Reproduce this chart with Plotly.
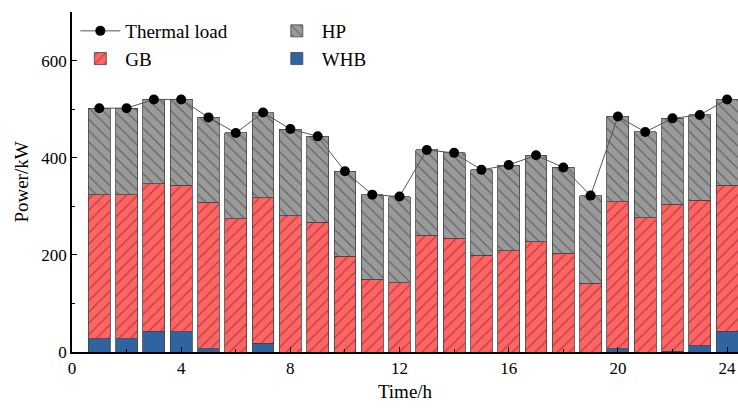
import plotly.graph_objects as go

hours = list(range(1, 25))
thermal_load = [502, 502, 520, 520, 483, 451, 493, 459, 444, 372, 324, 320,
                416, 410, 375, 385, 405, 380, 322, 485, 453, 481, 488, 520]
whb = [27, 27, 43, 42, 7, 0, 18, 0, 0, 0, 0, 0,
       0, 0, 0, 0, 0, 0, 0, 7, 0, 2, 13, 43]
gb_top = [324, 324, 346, 343, 308, 274, 318, 281, 267, 197, 150, 143,
          240, 234, 199, 208, 227, 203, 142, 309, 276, 304, 312, 343]
gb = [t - w for t, w in zip(gb_top, whb)]
hp = [l - t for l, t in zip(thermal_load, gb_top)]

FONT = "Liberation Serif"
edge = dict(color="#444444", width=0.8)

fig = go.Figure()
fig.add_trace(go.Bar(
    x=hours, y=whb, name="WHB", width=0.8,
    marker=dict(color="#2f64a0", line=edge),
    legend="legend2", legendrank=2,
))
fig.add_trace(go.Bar(
    x=hours, y=gb, name="GB", width=0.8,
    marker=dict(color="#ff6464", line=edge,
                pattern=dict(shape="/", fgcolor="#6a1a1a", size=8, solidity=0.15)),
    legend="legend", legendrank=2,
))
fig.add_trace(go.Bar(
    x=hours, y=hp, name="HP", width=0.8,
    marker=dict(color="#9a9a9a", line=edge,
                pattern=dict(shape="\\", fgcolor="#2e2e2e", size=8, solidity=0.15)),
    legend="legend2", legendrank=1,
))
fig.add_trace(go.Scatter(
    x=hours, y=thermal_load, name="Thermal load", mode="lines+markers",
    line=dict(color="#555555", width=1),
    marker=dict(color="black", size=10),
    legend="legend", legendrank=1,
))

legend_common = dict(
    font=dict(family=FONT, size=19, color="black"),
    bgcolor="rgba(0,0,0,0)", borderwidth=0,
    yanchor="top", y=1.0, xanchor="left",
    tracegroupgap=0, itemwidth=40, traceorder="normal",
)

fig.update_layout(
    width=738, height=408,
    margin=dict(l=72, r=0, t=12, b=56),
    plot_bgcolor="white", paper_bgcolor="white",
    barmode="stack", bargap=0.2,
    font=dict(family=FONT, size=16, color="black"),
    legend=dict(x=0.005, **legend_common),
    legend2=dict(x=0.30, **legend_common),
    xaxis=dict(
        range=[0, 24.4], tickvals=[0, 4, 8, 12, 16, 20, 24],
        ticks="inside", ticklen=5, tickcolor="black", tickwidth=1.2,
        minor=dict(tickvals=[2, 6, 10, 14, 18, 22], ticks="inside",
                   ticklen=3, tickcolor="black", tickwidth=1),
        showline=True, linecolor="black", linewidth=1.5,
        showgrid=False, zeroline=False,
        tickfont=dict(family=FONT, size=17),
        title=dict(text="Time/h", font=dict(family=FONT, size=19), standoff=8),
    ),
    yaxis=dict(
        range=[0, 700], tickvals=[0, 200, 400, 600],
        ticks="inside", ticklen=5, tickcolor="black", tickwidth=1.2,
        minor=dict(tickvals=[100, 300, 500, 700], ticks="inside",
                   ticklen=3, tickcolor="black", tickwidth=1),
        showline=True, linecolor="black", linewidth=1.5,
        showgrid=False, zeroline=False,
        tickfont=dict(family=FONT, size=17),
        title=dict(text="Power/kW", font=dict(family=FONT, size=19), standoff=8),
    ),
)

fig.write_html("out.html")
